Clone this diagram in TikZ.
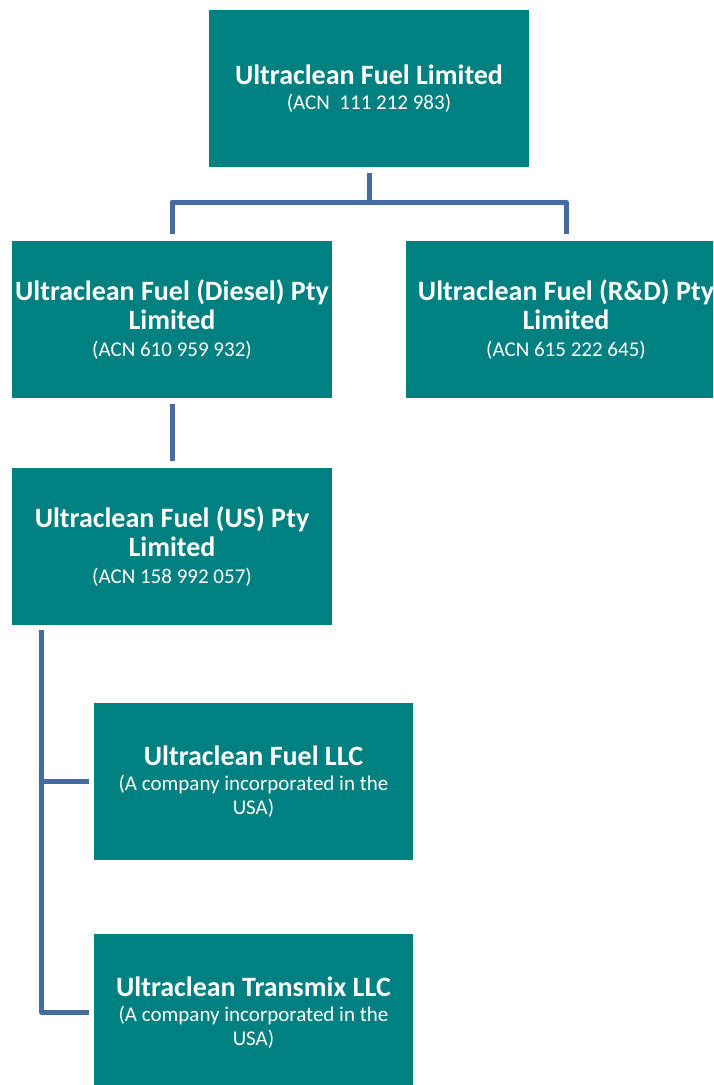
\documentclass[tikz,border=0pt]{standalone}
\usepackage{fontspec}
\setmainfont{Carlito}
\definecolor{boxteal}{RGB}{0,128,128}
\definecolor{linkblue}{RGB}{69,107,163}
\tikzset{
  orgbox/.style={rectangle, fill=boxteal, text=white, inner sep=0pt,
    minimum width=320pt, minimum height=157pt, align=center,
    font=\fontsize{21}{29}\selectfont},
  conn/.style={draw=linkblue, line width=5pt, line join=round}
}
\newcommand{\bname}[1]{{\bfseries\fontsize{28}{29}\selectfont #1}}
\begin{document}
\begin{tikzpicture}[x=1pt,y=-1pt]
\useasboundingbox (0,0) rectangle (713,1085);
\clip (0,0) rectangle (713,1085);
\node[orgbox] (top) at (369,88.5) {\bname{Ultraclean Fuel Limited}\\[-4pt](ACN\ \ 111 212 983)};
\node[orgbox] (diesel) at (172,319.5) {\bname{Ultraclean Fuel (Diesel) Pty}\\\bname{Limited}\\[-2pt](ACN 610 959 932)};
\node[orgbox] (rd) at (566,319.5) {\bname{Ultraclean Fuel (R\&D) Pty}\\\bname{Limited}\\[-2pt](ACN 615 222 645)};
\node[orgbox] (us) at (172,546.5) {\bname{Ultraclean Fuel (US) Pty}\\\bname{Limited}\\[-2pt](ACN 158 992 057)};
\node[orgbox, minimum width=319pt] (llc) at (253.5,781.5) {\bname{Ultraclean Fuel LLC}\\[-4pt](A company incorporated in the\\[-5pt]USA)};
\node[orgbox, minimum width=319pt] (transmix) at (253.5,1012.5) {\bname{Ultraclean Transmix LLC}\\[-4pt](A company incorporated in the\\[-5pt]USA)};
\coordinate (bus) at (369,202);
\draw[conn] ([yshift=-6pt]top.south) -- (bus);
\draw[conn] ([yshift=7pt]diesel.north) |- (bus) -| ([yshift=7pt]rd.north);
\draw[conn] ([yshift=-6pt]diesel.south) -- ([yshift=7pt]us.north);
\coordinate (trunk) at ([xshift=30pt,yshift=-5pt]us.south west);
\draw[conn] (trunk) |- ([xshift=-5pt]transmix.west);
\draw[conn] (trunk |- llc.west) -- ([xshift=-5pt]llc.west);
\end{tikzpicture}
\end{document}
